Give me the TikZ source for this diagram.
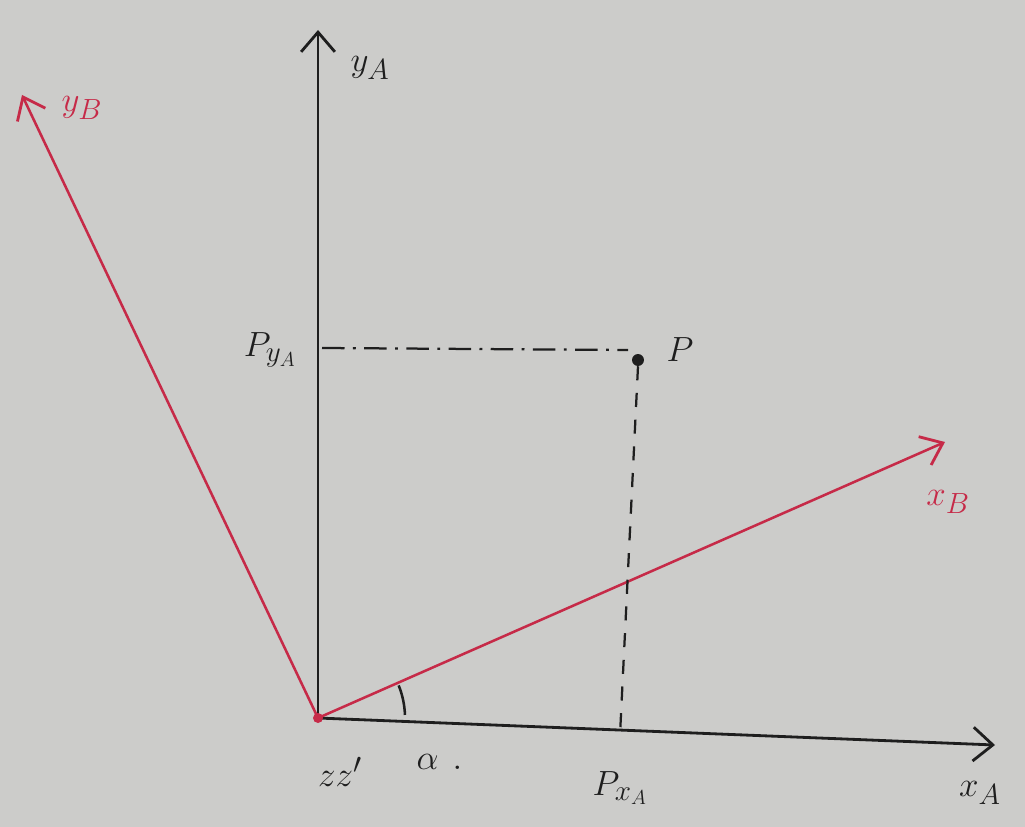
\documentclass[tikz,border=0pt]{standalone}
\usepackage{amsmath}
\usepackage{tikz}

\definecolor{paper}{RGB}{204,204,202}
\definecolor{pen}{RGB}{30,30,30}
\definecolor{redpen}{RGB}{198,42,72}

\usetikzlibrary{arrows.meta}
\tikzset{
  axis/.style={line width=2pt, pen, -{Straight Barb[length=14pt,width=24pt,line width=2pt]}},
  raxis/.style={line width=1.8pt, redpen, -{Straight Barb[length=14pt,width=22pt,line width=2pt]}},
  hand/.style={font=\fontsize{30}{32}\selectfont, pen},
  rhand/.style={font=\fontsize{30}{32}\selectfont, redpen}
}

\begin{document}
\begin{tikzpicture}[x=0.025cm, y=-0.025cm]

% Paper background
\fill[paper] (0,0) rectangle (1025,827);
\useasboundingbox (0,0) rectangle (1025,827);

% Key points
\coordinate (O) at (318,718);
\coordinate (xA) at (995,745);
\coordinate (yA) at (318,30);
\coordinate (xB) at (945,442);
\coordinate (yB) at (22,95);
\coordinate (Pyfoot) at (322,348);
\coordinate (Pyend) at (628,350);
\coordinate (Pxfoot) at (620,735);
\node[circle, fill=pen, inner sep=3pt] (P) at (638,360) {};

% Frame A
\draw[axis] (O) -- (xA);
\draw[axis] (O) -- (yA);

% Frame B
\draw[raxis] (O) -- (xB);
\draw[raxis] (O) -- (yB);
\fill[redpen] (O) circle (5);

% Projections of P
\draw[line width=1.6pt, pen, dash pattern=on 16pt off 6pt on 2pt off 6pt] (Pyfoot) -- (Pyend);
\draw[line width=1.6pt, pen, dash pattern=on 10pt off 9pt] (P.south) -- (Pxfoot);

% Angle between x axes
\draw[line width=1.8pt, pen] ([shift={(-2:87)}]O) arc[start angle=-2, end angle=-22, radius=87];

% Labels
\node[hand] (ylab) at (370,68) {$y_A$};
\node[rhand] (yblab) at (82,108) {$y_B$};
\node[hand] (pylab) at (270,350) {$P_{y_A}$};
\node[hand] (plab) at (680,350) {$P$};
\node[rhand] (xblab) at (948,502) {$x_B$};
\node[hand] (xlab) at (980,793) {$x_A$};
\node[hand] (pxlab) at (620,788) {$P_{x_A}$};
\node[hand] (zlab) at (340,772) {$zz'$};
\node[hand] (alab) at (440,762) {$\alpha$\,\,.};

\end{tikzpicture}
\end{document}
